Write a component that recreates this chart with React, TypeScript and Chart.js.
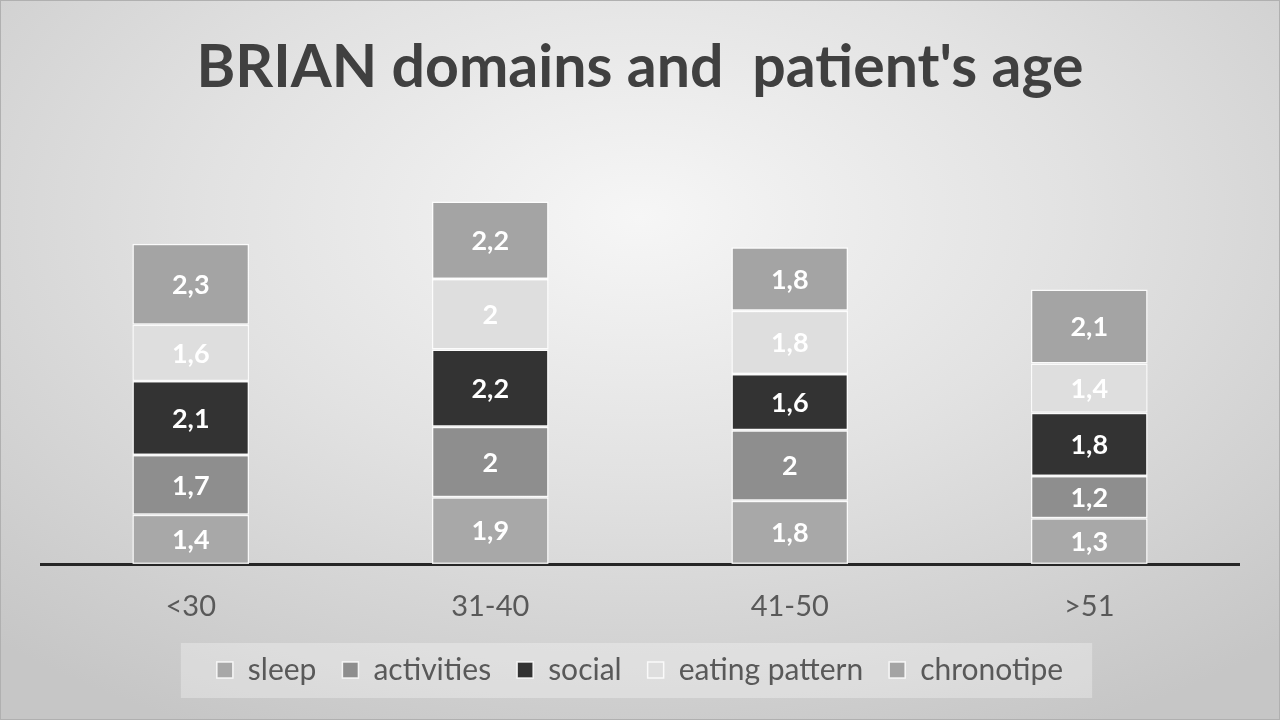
import React, { useEffect, useRef } from "react";
import { Chart, registerables } from "chart.js";

Chart.register(...registerables);

const ageGroups = ["<30", "31-40", "41-50", ">51"];
const sleep = [1.4, 1.9, 1.8, 1.3];
const activities = [1.7, 2, 2, 1.2];
const social = [2.1, 2.2, 1.6, 1.8];
const eatingPattern = [1.6, 2, 1.8, 1.4];
const chronotipe = [2.3, 2.2, 1.8, 2.1];

const FONT = "Lato, 'Open Sans', sans-serif";

// white value labels in the middle of each segment
const segmentLabels = {
  id: "segmentLabels",
  afterDatasetsDraw(chart: any) {
    const ctx = chart.ctx;
    ctx.save();
    ctx.font = `bold 27px ${FONT}`;
    ctx.fillStyle = "#ffffff";
    ctx.textAlign = "center";
    ctx.textBaseline = "middle";
    chart.data.datasets.forEach((ds: any, i: number) => {
      const meta = chart.getDatasetMeta(i);
      if (meta.hidden) return;
      meta.data.forEach((bar: any, j: number) => {
        const v = ds.data[j];
        const y = (bar.y + bar.base) / 2;
        ctx.fillText(String(v).replace(".", ","), bar.x, y + 1);
      });
    });
    ctx.restore();
  },
};

// light box behind the legend
const legendBox = {
  id: "legendBox",
  beforeDraw(chart: any) {
    const lg = chart.legend;
    if (!lg || !lg.legendHitBoxes || !lg.legendHitBoxes.length) return;
    const boxes = lg.legendHitBoxes;
    const left = Math.min(...boxes.map((b: any) => b.left)) - 36;
    const right = Math.max(...boxes.map((b: any) => b.left + b.width)) + 29;
    const top = Math.min(...boxes.map((b: any) => b.top)) - 12;
    const bottom = Math.max(...boxes.map((b: any) => b.top + b.height)) + 13;
    const ctx = chart.ctx;
    ctx.save();
    ctx.fillStyle = "rgba(255,255,255,0.3)";
    ctx.fillRect(left, top, right - left, bottom - top);
    ctx.restore();
  },
};

export default function App() {
  const canvasRef = useRef<HTMLCanvasElement | null>(null);
  const chartRef = useRef<Chart | null>(null);

  useEffect(() => {
    if (!canvasRef.current) return;
    if (chartRef.current) chartRef.current.destroy();

    const mk = (label: string, data: number[], color: string) => ({
      label,
      data,
      backgroundColor: color,
      borderColor: "rgba(255,255,255,0.85)",
      borderWidth: 1.5,
      borderSkipped: false as const,
      barPercentage: 0.39,
      categoryPercentage: 1,
    });

    chartRef.current = new Chart(canvasRef.current, {
      type: "bar",
      data: {
        labels: ageGroups,
        datasets: [
          mk("sleep", sleep, "#a8a8a8"),
          mk("activities", activities, "#8e8e8e"),
          mk("social", social, "#333333"),
          mk("eating pattern", eatingPattern, "#dedede"),
          mk("chronotipe", chronotipe, "#a4a4a4"),
        ],
      },
      options: {
        responsive: false,
        animation: false,
        layout: { padding: { left: 40, right: 40, top: 0, bottom: 24 } },
        plugins: {
          title: {
            display: true,
            text: "BRIAN domains and  patient's age",
            color: "#404040",
            font: { family: FONT, size: 59, weight: "bold" },
            padding: { top: 32, bottom: 38 },
          },
          legend: {
            position: "bottom",
            labels: {
              color: "#595959",
              font: { family: FONT, size: 30 },
              boxWidth: 16,
              boxHeight: 16,
              padding: 26,
            },
          },
          tooltip: { enabled: false },
        },
        scales: {
          x: {
            stacked: true,
            grid: { display: false, drawTicks: false },
            border: { display: true, color: "#262626", width: 3 },
            ticks: {
              color: "#595959",
              font: { family: FONT, size: 29 },
              padding: 25,
            },
            afterFit(scale: any) {
              scale.height = 65;
            },
          },
          y: {
            stacked: true,
            display: false,
            min: 0,
            max: 12,
          },
        },
      },
      plugins: [segmentLabels, legendBox],
    });

    return () => {
      if (chartRef.current) {
        chartRef.current.destroy();
        chartRef.current = null;
      }
    };
  }, []);

  return (
    <div
      style={{
        position: "fixed",
        left: 0,
        top: 0,
        width: 1280,
        height: 720,
        boxSizing: "border-box",
        border: "1px solid #b0b0b0",
        background:
          "radial-gradient(ellipse 75% 80% at 50% 30%, #f6f6f6 0%, #e2e2e2 45%, #c6c6c6 100%)",
      }}
    >
      <canvas ref={canvasRef} width={1278} height={718} style={{ display: "block" }} />
    </div>
  );
}
